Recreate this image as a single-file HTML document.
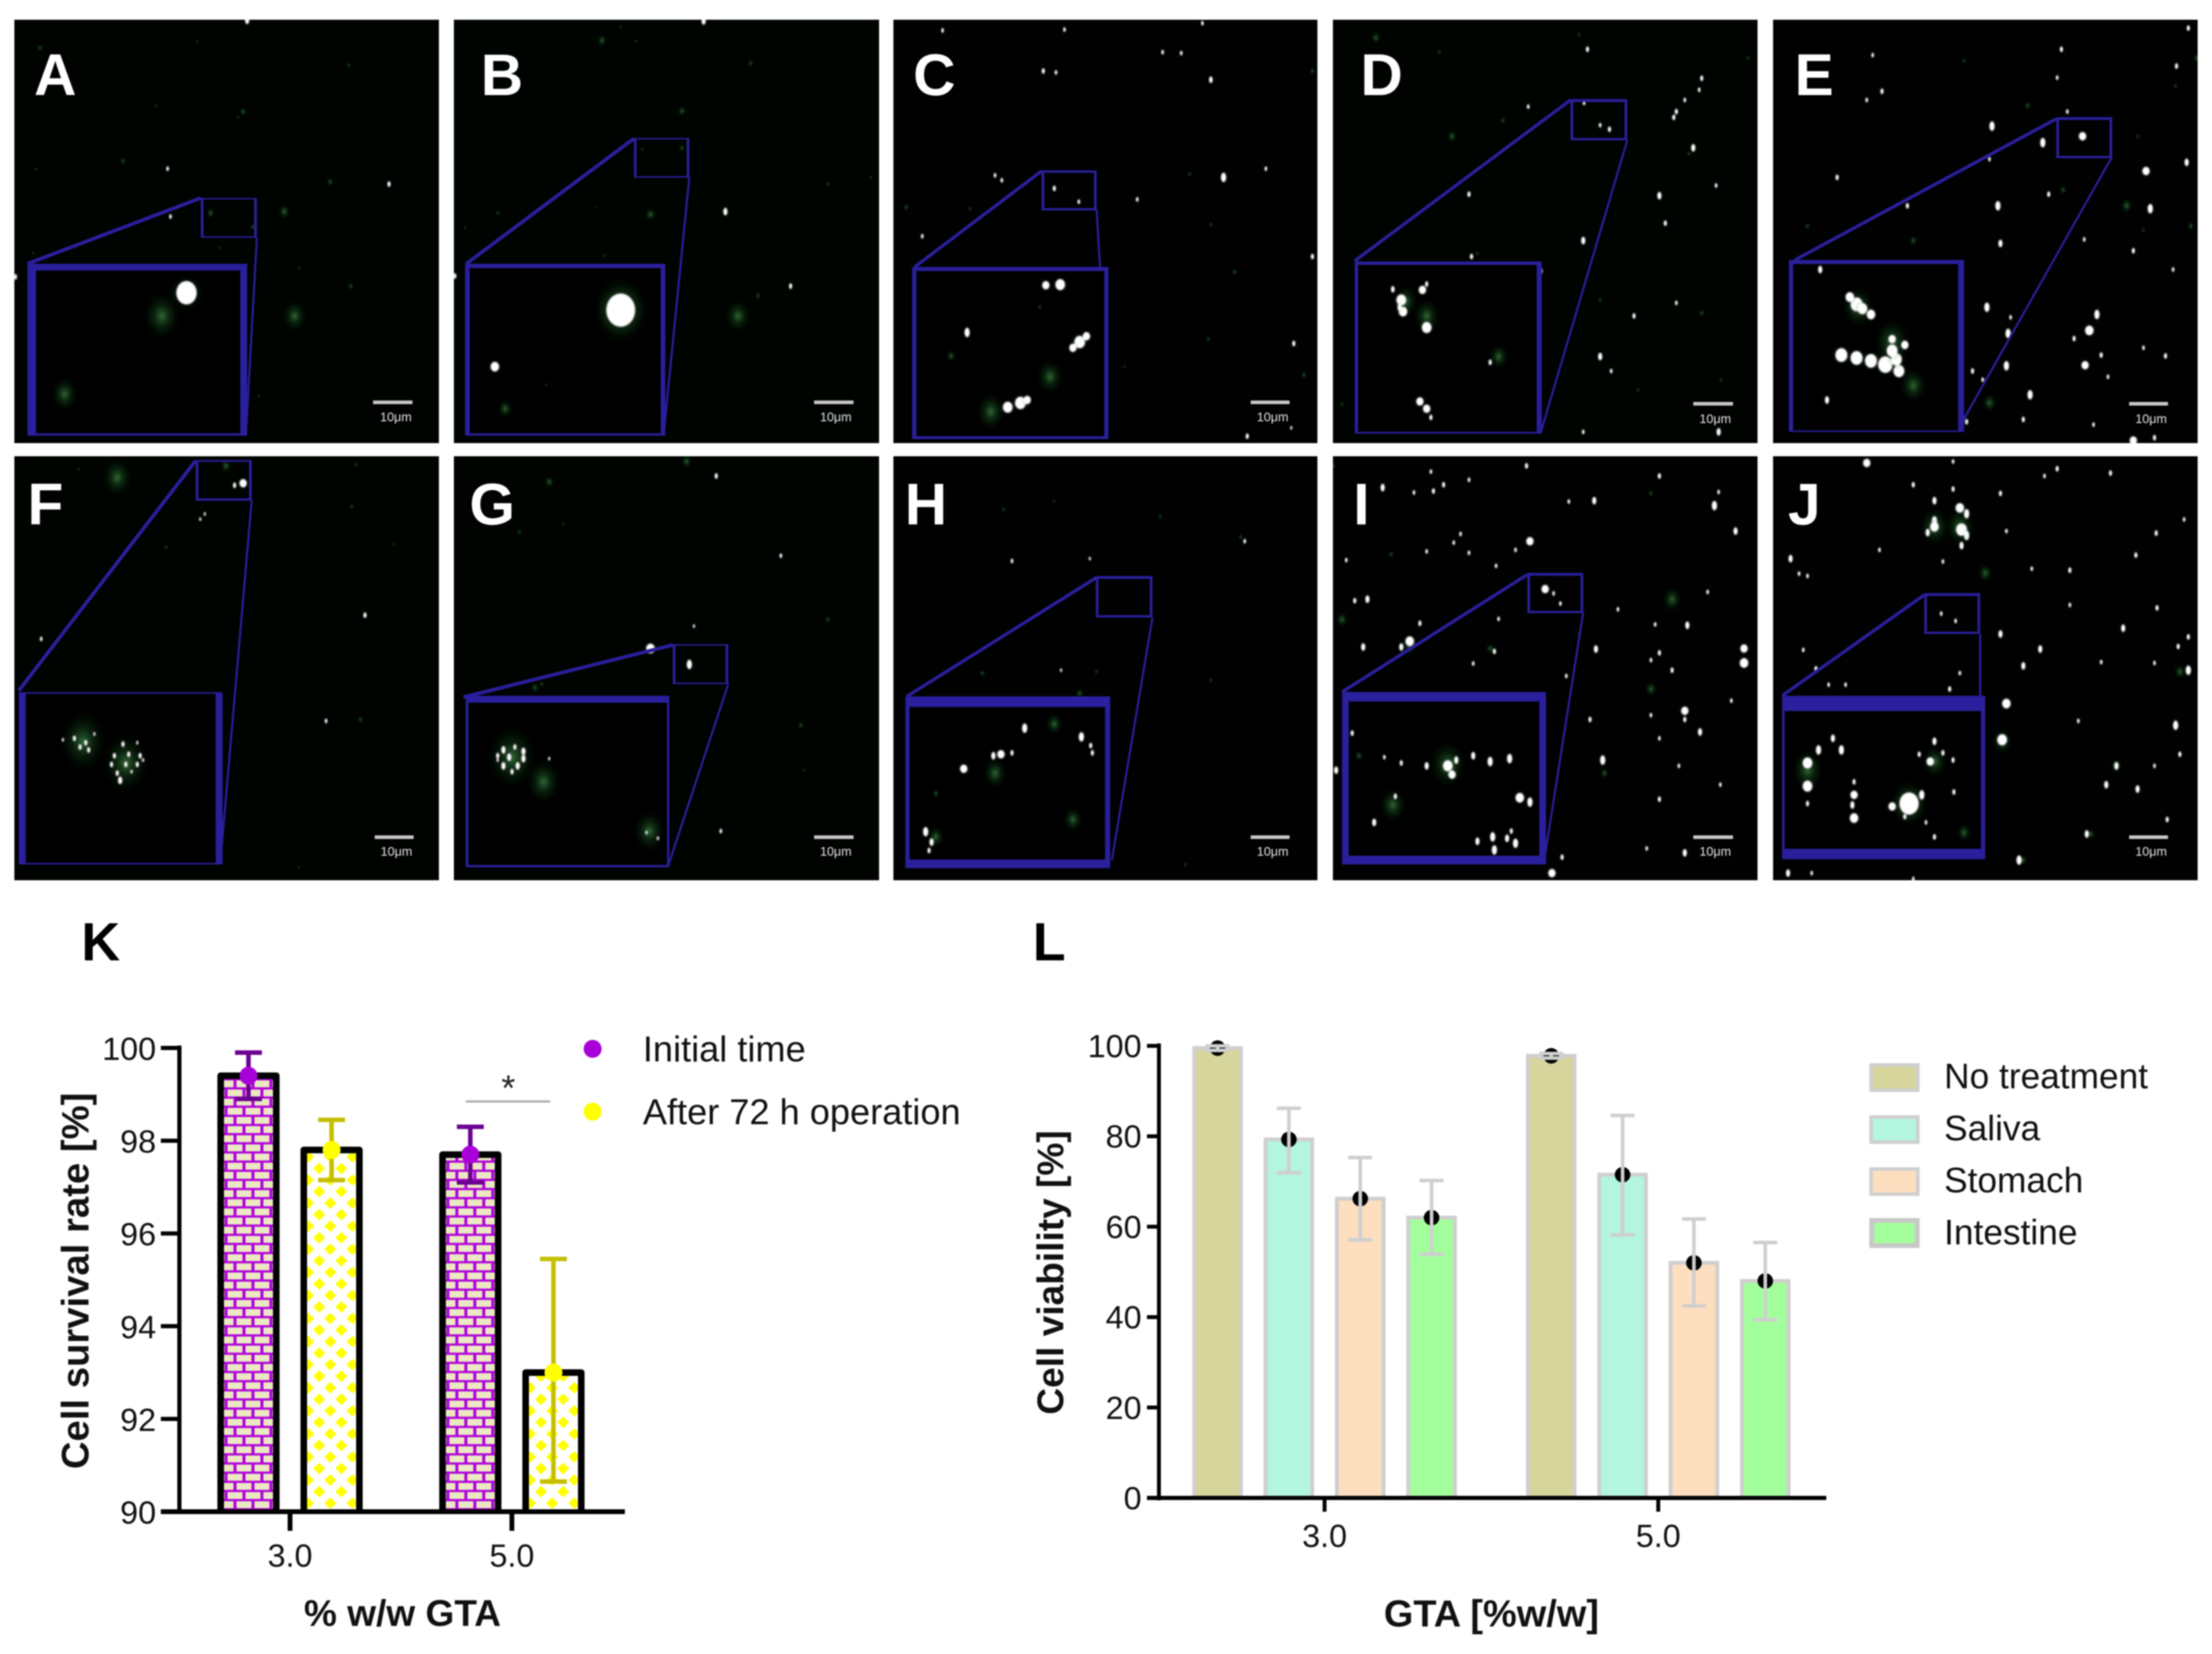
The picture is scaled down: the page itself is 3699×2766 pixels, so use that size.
<!DOCTYPE html>
<html lang="en">
<head>
<meta charset="utf-8">
<title>Cell fluorescence micrographs and viability charts</title>
<style>
html,body{margin:0;padding:0;background:#fff;width:3699px;height:2766px;overflow:hidden}
svg{display:block;filter:blur(1px)}
text{font-family:"Liberation Sans",sans-serif}
.plabel{font-size:98px;font-weight:700;fill:#fff}
.ftitle{font-size:90px;font-weight:700;fill:#000}
.atitle{font-weight:700;fill:#111;font-size:62px}
.leg{font-size:60.5px;fill:#111}
</style>
</head>
<body>
<svg id="fig" xmlns="http://www.w3.org/2000/svg" width="3699" height="2766" viewBox="0 0 3699 2766">
<defs>
<radialGradient id="haze"><stop offset="0" stop-color="#5fd06a" stop-opacity=".5"/><stop offset=".45" stop-color="#2c8a36" stop-opacity=".22"/><stop offset="1" stop-color="#0c3a12" stop-opacity="0"/></radialGradient>
<filter id="soft" x="-5%" y="-5%" width="110%" height="110%"><feGaussianBlur stdDeviation="1.1"/></filter>
<pattern id="brick" patternUnits="userSpaceOnUse" x="-5" y="-17.5" width="30" height="30.6">
<rect width="30" height="30.6" fill="#b000dc"/>
<rect x="15" y="0" width="15" height="11.6" fill="#ebe8c2"/><rect x="0" y="0" width="10" height="11.6" fill="#ebe8c2"/>
<rect x="0" y="15.3" width="25" height="11.6" fill="#ebe8c2"/>
</pattern>
<pattern id="diamond" patternUnits="userSpaceOnUse" x="-39.2" y="-4.65" width="37" height="38.6">
<rect width="37" height="38.6" fill="#fff"/>
<polygon points="18.5,0 28.5,9.65 18.5,19.3 8.5,9.65" fill="#ffff00"/>
<polygon points="0,19.3 10,28.95 0,38.6 -10,28.95" fill="#ffff00"/>
<polygon points="37,19.3 47,28.95 37,38.6 27,28.95" fill="#ffff00"/>
</pattern>
</defs>
<rect width="3699" height="2766" fill="#fff"/>
<g id="panels"></g>

<g>
<text class="plabel" x="57" y="159">A</text>
<text class="plabel" x="804" y="159">B</text>
<text class="plabel" x="1527" y="159">C</text>
<text class="plabel" x="2275" y="159">D</text>
<text class="plabel" x="3001" y="159">E</text>
<text class="plabel" x="46" y="877">F</text>
<text class="plabel" x="785" y="877">G</text>
<text class="plabel" x="1513" y="877">H</text>
<text class="plabel" x="2263" y="877">I</text>
<text class="plabel" x="2990" y="877">J</text>
</g>

<text class="ftitle" x="136" y="1606">K</text>
<text class="ftitle" x="1727" y="1606">L</text>

<g id="chartK"></g>
<text class="atitle" text-anchor="middle" font-size="64" style="font-size:64px" transform="translate(148,2142) rotate(-90)">Cell survival rate [%]</text>
<text class="atitle" text-anchor="middle" x="673" y="2719">% w/w GTA</text>
<text x="850" y="1840" text-anchor="middle" font-size="60" fill="#222">*</text>
<line x1="779" x2="920" y1="1842" y2="1842" stroke="#aaa" stroke-width="3.5"/>
<g>
<circle cx="991" cy="1754" r="15" fill="#a800d8"/>
<text class="leg" x="1075" y="1775">Initial time</text>
<circle cx="991" cy="1859" r="15" fill="#ffff00"/>
<text class="leg" x="1075" y="1880">After 72 h operation</text>
</g>

<g id="chartL"></g>
<text class="atitle" text-anchor="middle" transform="translate(1778,2128) rotate(-90)">Cell viability [%]</text>
<text class="atitle" style="font-size:63.5px" text-anchor="middle" x="2494" y="2720">GTA [%w/w]</text>
<g>
<rect x="3129" y="1781" width="78" height="42" fill="#d6d59b" stroke="#cfcfcf" stroke-width="6"/>
<text class="leg" style="font-size:59px" x="3251" y="1820">No treatment</text>
<rect x="3129" y="1868" width="78" height="42" fill="#b4f5df" stroke="#cfcfcf" stroke-width="6"/>
<text class="leg" style="font-size:59px" x="3251" y="1907">Saliva</text>
<rect x="3129" y="1955" width="78" height="42" fill="#fddfc0" stroke="#cfcfcf" stroke-width="6"/>
<text class="leg" style="font-size:59px" x="3251" y="1994">Stomach</text>
<rect x="3130" y="2041" width="76" height="42" fill="#a3ff9c" stroke="#c8c8c8" stroke-width="8"/>
<text class="leg" style="font-size:59px" x="3251" y="2081">Intestine</text>
</g>
</svg>

<script>
/* ---------- Chart K data ---------- */
const kCategories = ['3.0', '5.0'];
const kInitial = [99.4, 97.7];
const kInitialHigh = [99.9, 98.3];
const kInitialLow = [98.9, 97.1];
const kAfter = [97.8, 93.0];
const kAfterHigh = [98.45, 95.45];
const kAfterLow = [97.15, 90.65];
const kTicks = [90, 92, 94, 96, 98, 100];

/* ---------- Chart L data ---------- */
const lCategories = ['3.0', '5.0'];
const lNoTreatment = [99.5, 97.8];
const lNoTreatmentHigh = [100.0, 98.3];
const lNoTreatmentLow = [99.0, 97.3];
const lSaliva = [79.3, 71.5];
const lSalivaHigh = [86.2, 84.6];
const lSalivaLow = [71.9, 58.2];
const lStomach = [66.2, 52.0];
const lStomachHigh = [75.3, 61.7];
const lStomachLow = [57.1, 42.5];
const lIntestine = [62.0, 48.0];
const lIntestineHigh = [70.2, 56.5];
const lIntestineLow = [53.9, 39.4];
const lTicks = [0, 20, 40, 60, 80, 100];

const NS = 'http://www.w3.org/2000/svg';
function mk(tag, attrs, parent) {
  const n = document.createElementNS(NS, tag);
  for (const k in attrs) n.setAttribute(k, attrs[k]);
  parent.appendChild(n);
  return n;
}

/* ---------- Chart K ---------- */
(function () {
  const g = document.getElementById('chartK');
  const y0 = 2528, pxPerUnit = 77.55;
  const yK = v => y0 - (v - kTicks[0]) * pxPerUnit;
  const xK = i => 485 + i * 371;
  const seriesOffset = [-69.5, 69.5];
  const bw = 93, sw = 11;
  const series = [
    { name: 'initial', vals: kInitial, hi: kInitialHigh, lo: kInitialLow, pat: 'url(#brick)', mk: '#a800d8', err: '#6b0090' },
    { name: 'after', vals: kAfter, hi: kAfterHigh, lo: kAfterLow, pat: 'url(#diamond)', mk: '#ffff00', err: '#c4c000' }
  ];
  series.forEach(s => {
    kCategories.forEach((c, i) => {
      const cx = xK(i) + seriesOffset[series.indexOf(s)];
      const top = yK(s.vals[i]);
      const wrap = mk('g', { transform: 'translate(' + cx + ',' + y0 + ')' }, g);
      
      
      const fill = mk('rect', { x: -bw / 2, y: top - y0, width: bw, height: y0 - top, fill: s.pat }, wrap);
      
      
      const edge = mk('path', {
        d: 'M' + (-bw / 2) + ' 0V' + (top - y0) + 'H' + (bw / 2) + 'V0',
        fill: 'none', stroke: '#000', 'stroke-width': sw, 'stroke-linejoin': 'round'
      }, wrap);
      
      
    });
  });
  const yAxis = mk('line', { x1: 300, x2: 300, y1: yK(100) - 4, y2: y0 + 4, stroke: '#000', 'stroke-width': 7 }, g);
  
  
  const xAxis = mk('line', { x1: 269, x2: 1045, y1: y0, y2: y0, stroke: '#000', 'stroke-width': 8 }, g);
  
  
  kTicks.forEach(t => {
    const l = mk('line', { x1: 269, x2: 300, y1: yK(t), y2: yK(t), stroke: '#000', 'stroke-width': 7 }, g);
    
    
    const tx = mk('text', { x: 261, y: yK(t) + 20, 'text-anchor': 'end', 'font-size': 54, fill: '#111' }, g);
    tx.textContent = String(t);
    
    
  });
  kCategories.forEach((c, i) => {
    const l = mk('line', { x1: xK(i), x2: xK(i), y1: y0, y2: 2560, stroke: '#000', 'stroke-width': 8 }, g);
    
    
    const tx = mk('text', { x: xK(i), y: 2620, 'text-anchor': 'middle', 'font-size': 54, fill: '#111' }, g);
    tx.textContent = c;
    
    
  });
  series.forEach((s, si) => {
    kCategories.forEach((c, i) => {
      const cx = xK(i) + seriesOffset[si];
      const eb = mk('path', {
        d: 'M' + (cx - 22.5) + ' ' + yK(s.hi[i]) + 'H' + (cx + 22.5) + 'M' + cx + ' ' + yK(s.hi[i]) + 'V' + yK(s.lo[i]) + 'M' + (cx - 22.5) + ' ' + yK(s.lo[i]) + 'H' + (cx + 22.5),
        fill: 'none', stroke: s.err, 'stroke-width': 7.5
      }, g);
      
      
      const dot = mk('circle', { cx: cx, cy: yK(s.vals[i]), r: 15, fill: s.mk }, g);
      
      
    });
  });
})();

/* ---------- Chart L ---------- */
(function () {
  const g = document.getElementById('chartL');
  const y0 = 2505;
  const yL = v => y0 - v * 7.56;
  const xL = i => 2215 + i * 558;
  const bw = 78, sw = 6.5, gray = '#cfcfcf';
  const series = [
    { name: 'no-treatment', vals: lNoTreatment, hi: lNoTreatmentHigh, lo: lNoTreatmentLow, col: '#d6d59b' },
    { name: 'saliva', vals: lSaliva, hi: lSalivaHigh, lo: lSalivaLow, col: '#b4f5df' },
    { name: 'stomach', vals: lStomach, hi: lStomachHigh, lo: lStomachLow, col: '#fddfc0' },
    { name: 'intestine', vals: lIntestine, hi: lIntestineHigh, lo: lIntestineLow, col: '#a3ff9c' }
  ];
  const off = si => (si - 1.5) * 119.3;
  series.forEach((s, si) => {
    lCategories.forEach((c, i) => {
      const cx = xL(i) + off(si), top = yL(s.vals[i]);
      const b = mk('path', {
        d: 'M' + (cx - bw / 2) + ' ' + y0 + 'V' + top + 'H' + (cx + bw / 2) + 'V' + y0 + 'Z',
        fill: s.col, stroke: gray, 'stroke-width': sw
      }, g);
      
      
    });
  });
  const yAxis = mk('line', { x1: 1938, x2: 1938, y1: yL(100) - 4, y2: y0 + 4, stroke: '#000', 'stroke-width': 6.5 }, g);
  
  
  const xAxis = mk('line', { x1: 1918, x2: 3054, y1: y0, y2: y0, stroke: '#000', 'stroke-width': 7 }, g);
  
  
  lTicks.forEach(t => {
    const l = mk('line', { x1: 1918, x2: 1938, y1: yL(t), y2: yL(t), stroke: '#000', 'stroke-width': 6.5 }, g);
    
    
    const tx = mk('text', { x: 1909, y: yL(t) + 19, 'text-anchor': 'end', 'font-size': 54, fill: '#111' }, g);
    tx.textContent = String(t);
    
    
  });
  lCategories.forEach((c, i) => {
    const l = mk('line', { x1: xL(i), x2: xL(i), y1: y0, y2: 2528, stroke: '#000', 'stroke-width': 6.5 }, g);
    
    
    const tx = mk('text', { x: xL(i), y: 2587, 'text-anchor': 'middle', 'font-size': 54, fill: '#111' }, g);
    tx.textContent = c;
    
    
  });
  series.forEach((s, si) => {
    lCategories.forEach((c, i) => {
      const cx = xL(i) + off(si);
      const dot = mk('circle', { cx: cx, cy: yL(s.vals[i]), r: 13, fill: '#000' }, g);
      
      
      const eb = mk('path', {
        d: 'M' + (cx - 20) + ' ' + yL(s.hi[i]) + 'H' + (cx + 20) + 'M' + cx + ' ' + yL(s.hi[i]) + 'V' + yL(s.lo[i]) + 'M' + (cx - 20) + ' ' + yL(s.lo[i]) + 'H' + (cx + 20),
        fill: 'none', stroke: gray, 'stroke-width': 6
      }, g);
      
      
    });
  });
})();

/* ---------- Micrograph panels ---------- */
const cropTop = { sx: 1.0453, sy: 2.063, ox: 0, oy: 0 };
const cropTopR = { sx: 0.7066, sy: 2.063, ox: 1480, oy: 0 };
const cropBot = { sx: 1.0453, sy: 2.063, ox: 0, oy: 750 };
const cropBotR = { sx: 0.7066, sy: 2.063, ox: 1480, oy: 750 };

const micrographs = [
 { id: 'a', crop: cropTop, box: [24, 33, 734, 741], tint: '#000300',
   small: [351, 683, 449, 820, 5, 5], big: [48, 910, 432, 1503, 23, 12, 8, 15],
   lines: [[351, 683, 48, 910, 5], [449, 820, 430, 1495, 2.5]],
   bar: [652, 721, 1388, 692, 1437],
   white: [[680,635,3],[293,582,2.5],[298,747,2.5],[27,955,3],[432,70,4],[326,1010,17]],
   green: [[215,556,5],[63,583,3],[577,627,6],[70,165,5],[610,225,4],[425,385,6],[416,404,3],[368,735,7],[442,783,5],[497,730,10],[613,987,5],[523,925,3],[515,1090,20],[283,1090,30],[113,1360,22],[58,872,3],[452,1365,3],[383,855,3],[272,365,3],[345,143,3]] },
 { id: 'b', crop: cropTop, box: [759, 33, 1470, 741], tint: '#000400',
   small: [1108, 476, 1205, 613, 5, 5], big: [813, 910, 1163, 1503, 15, 8, 8, 8],
   lines: [[1108, 478, 815, 910, 5], [1205, 610, 1160, 1500, 2.5]],
   bar: [1423, 1492, 1388, 1461, 1437],
   white: [[1268,730,4],[1382,987,3],[795,952,3],[1230,72,4],[1085,1070,24],[865,1265,7]],
   green: [[1085,93,3],[1112,142,3],[1312,218,5],[1192,383,7],[1123,515,3],[1192,510,5],[870,735,4],[813,785,3],[1447,635,4],[1522,612,3],[1137,740,9],[1290,1090,20],[1085,1070,44],[883,1410,12],[1052,140,8],[1040,715,2],[1057,882,3],[955,1328,3],[1325,1020,5]] },
 { id: 'c', crop: cropTopR, box: [1494, 33, 2203, 741], tint: '#000100',
   small: [185, 588, 250, 726, 8, 8], big: [32, 921, 264, 1515, 14, 5, 10, 5],
   lines: [[185, 590, 35, 921, 4.5], [250, 722, 254, 921, 2.5]],
   bar: [432, 478, 1388, 458, 1437],
   white: [[68,105,2.5],[328,180,2.5],[187,245,3],[202,250,2.5],[385,275,3.5],[130,605,2.5],[138,622,2.5],[400,612,5],[200,650,3],[229,696,2.5],[298,688,2.5],[450,582,2.5],[505,885,3],[428,1505,3],[483,1185,3],[480,1476,2],[44,815,2.5],[190,984,6],[207,982,8],[97,1147,5],[230,1180,9],[222,1200,6],[238,1160,6],[145,1405,8],[160,1390,9],[168,1380,6],[212,102,2.5],[350,183,2.5],[375,80,2.5]],
   green: [[25,715,5],[360,600,4],[413,938,5],[382,1170,4],[495,1293,5],[505,245,5],[195,1300,22],[78,1228,8],[125,1420,24],[183,1060,4],[385,775,4],[283,1265,3],[100,720,4]] },
 { id: 'd', crop: cropTopR, box: [2229, 33, 2939, 741], tint: '#000300',
   small: [810, 342, 877, 484, 10, 8], big: [555, 902, 776, 1496, 12, 6, 6, 4],
   lines: [[810, 345, 555, 900, 4.5], [877, 484, 775, 1490, 2.5]],
   bar: [955, 1002, 1393, 981, 1443],
   white: [[830,170,3],[965,270,3],[962,310,2.5],[935,385,3],[932,405,3],[955,510,4],[945,345,2.5],[915,675,4],[690,670,3],[922,770,3],[825,830,4],[935,1045,2.5],[885,1090,3],[845,1230,4],[858,1280,2.5],[760,368,2.5],[693,885,3],[982,640,2.5],[985,1490,4],[825,1490,2.5],[826,355,2.5],[845,432,2.5],[856,446,3],[610,1035,8],[635,1000,6],[640,980,3],[600,998,3.5],[612,1075,7],[640,1130,8],[632,1385,6],[640,1410,6],[645,1440,3],[715,1250,3],[775,935,3],[608,1060,4]],
   green: [[655,180,4],[1020,200,4],[730,415,5],[640,1090,22],[725,1230,16],[950,530,4],[670,470,8],[820,120,4],[580,130,8],[988,1310,4],[845,1035,4],[965,1080,5],[890,1345,4],[540,1395,4],[700,875,4],[615,1040,20]] },
 { id: 'e', crop: cropTopR, box: [2965, 33, 3675, 741], tint: '#000100',
   small: [1384, 404, 1450, 546, 10, 8], big: [1068, 897, 1275, 1490, 14, 7, 5, 5],
   lines: [[1384, 410, 1075, 897, 4.5], [1450, 540, 1272, 1460, 2.5]],
   bar: [1470, 1516, 1393, 1496, 1443],
   white: [[1540,97,3],[1167,190,2.5],[1390,170,3],[1526,228,3],[1385,268,2.5],[1178,315,3],[1160,345,2.5],[1397,385,2.5],[1308,435,5],[1368,492,5],[1415,470,6],[1305,549,2.5],[1490,590,6],[1125,612,3],[1208,710,3],[1315,710,5],[1375,670,3],[1495,720,5],[1318,840,4],[1417,826,2.5],[1475,865,3],[1302,1060,5],[1432,1085,5],[1330,1095,2.5],[1327,1150,5],[1423,1140,7],[1405,1168,3],[1487,1200,2.5],[1437,1225,3],[1418,1260,6],[1513,1228,3],[1325,1262,5],[1285,1280,3],[1297,1310,2.5],[1353,1362,5],[1345,1447,3],[1428,1465,2.5],[1278,1455,3],[1475,1520,6],[1500,1510,3],[1522,930,2.5],[1538,560,4],[1105,930,4],[1113,1380,4],[1148,1050,10],[1140,1025,7],[1155,1065,8],[1165,1085,7],[1130,1225,10],[1148,1235,10],[1165,1245,10],[1182,1258,12],[1198,1280,9],[1195,1240,9],[1190,1210,9],[1205,1190,6],[1190,1170,6],[1445,1300,2.5]],
   green: [[1467,710,10],[1350,365,6],[1525,297,4],[1543,780,6],[1215,830,7],[1090,780,5],[1305,1390,12],[1190,1180,30],[1215,1330,22],[1150,1060,26],[1550,200,6],[1275,210,4],[1480,470,4],[1392,655,6],[1487,795,4]] },
 { id: 'f', crop: cropBot, box: [24, 763, 734, 1472], tint: '#000300',
   small: [342, 40, 440, 180, 6, 8], big: [33, 841, 389, 1435, 5, 12, 5, 12],
   lines: [[342, 42, 33, 835, 5], [440, 178, 385, 1430, 2.5]],
   bar: [655, 723, 1341, 693, 1388],
   white: [[425,120,6],[410,127,3],[72,657,2.5],[570,940,2.5],[638,575,3],[358,226,2],[350,244,2],[130,1000,3],[150,1015,3],[140,1030,3],[165,985,2],[110,1005,2],[155,1040,3],[215,1020,3],[240,1015,2],[200,1060,3],[225,1055,3],[245,1060,3],[195,1090,3],[220,1090,3],[240,1090,3],[205,1120,3],[230,1115,2],[210,1145,4],[250,1075,2]],
   green: [[395,60,9],[205,100,24],[623,55,4],[615,200,4],[688,330,3],[290,340,4],[630,935,5],[522,1445,3],[145,1010,38],[220,1085,38],[137,70,3]] },
 { id: 'g', crop: cropBot, box: [759, 763, 1470, 1472], tint: '#000300',
   small: [1176, 675, 1273, 813, 5, 5], big: [814, 853, 1170, 1445, 24, 4, 8, 5],
   lines: [[1176, 678, 810, 858, 5], [1273, 813, 1168, 1440, 2.5]],
   bar: [1423, 1492, 1341, 1461, 1388],
   white: [[1137,690,7],[1205,745,5],[1252,95,3],[1365,370,2.5],[1260,1320,2.5],[1213,613,2],[880,1040,4],[900,1030,3],[915,1045,4],[870,1060,3],[890,1065,4],[915,1070,4],[880,1095,4],[905,1095,4],[895,1115,3],[870,1075,2],[960,1070,2],[1130,1325,2],[1150,1345,2]],
   green: [[895,1065,40],[960,115,8],[908,288,4],[935,825,7],[947,813,4],[1400,955,5],[1447,590,5],[1405,1110,3],[985,260,3],[950,1150,28],[1135,1320,26],[1200,45,9]] },
 { id: 'h', crop: cropBotR, box: [1494, 763, 2203, 1472], tint: '#000100',
   small: [249, 440, 316, 583, 10, 8], big: [24, 855, 266, 1448, 37, 6, 30, 5],
   lines: [[250, 445, 26, 855, 4.5], [316, 583, 268, 1420, 2.5]],
   bar: [432, 478, 1341, 458, 1388],
   white: [[150,388,2.5],[242,380,2],[208,765,2],[425,320,2.5],[165,965,5],[232,995,5],[243,1025,3],[245,1050,3],[128,1060,4],[137,1055,6],[150,1050,3],[93,1105,6],[48,1322,5],[55,1358,4],[52,1387,3]],
   green: [[140,210,4],[325,235,4],[130,1120,20],[222,1280,16],[60,1190,6],[385,800,4],[230,845,7],[355,1435,4],[200,180,3],[115,775,5],[250,770,4],[420,305,4],[60,1340,14],[200,950,14]] },
 { id: 'i', crop: cropBotR, box: [2229, 763, 2939, 1472], tint: '#000100',
   small: [759, 429, 825, 568, 10, 8], big: [540, 840, 781, 1435, 33, 8, 30, 8],
   lines: [[759, 435, 540, 840, 4.5], [825, 565, 780, 1400, 2.5]],
   bar: [955, 1002, 1341, 981, 1388],
   white: [[758,60,3],[645,80,2.5],[690,108,2.5],[915,95,3],[588,135,4],[660,125,3],[648,147,3],[625,152,2.5],[985,150,2.5],[838,180,4],[808,183,2.5],[980,197,5],[762,320,6],[1005,285,4],[680,295,2.5],[672,325,2.5],[640,355,2.5],[690,360,2.5],[745,350,2.5],[722,405,2.5],[545,385,2.5],[570,520,4],[555,525,3],[780,485,6],[790,500,2.5],[798,535,2.5],[565,685,4],[620,665,7],[610,685,4],[632,603,3],[840,692,4],[948,610,4],[910,607,2.5],[1015,690,6],[1015,740,7],[915,705,3],[905,730,2.5],[930,765,3],[695,742,2.5],[805,785,2.5],[725,588,2.5],[720,700,3],[972,495,2.5],[866,555,2.5],[905,920,2.5],[945,905,6],[945,935,3],[963,978,4],[833,935,3],[915,1000,2.5],[938,1095,2.5],[848,1075,5],[1000,870,2.5],[987,1160,2.5],[915,1210,3],[788,1465,6],[945,1395,4],[900,1380,2.5],[800,1410,3],[533,1110,4],[552,982,3],[610,1085,3],[590,1065,2.5],[640,1095,4],[665,1095,8],[670,1125,6],[695,1060,4],[715,1080,5],[738,1070,5],[675,1075,4],[750,1205,7],[762,1220,5],[603,1200,3],[578,1290,4],[700,1355,4],[718,1340,5],[740,1320,3],[720,1385,5],[745,1362,5],[735,1345,4]],
   green: [[930,520,16],[540,590,10],[598,365,5],[620,680,12],[715,690,7],[665,1090,30],[600,1230,22],[905,155,5],[905,830,10],[850,1120,7],[560,1060,7],[820,640,4],[530,60,4]] },
 { id: 'j', crop: cropBotR, box: [2965, 763, 3675, 1472], tint: '#000100',
   small: [1228, 499, 1294, 640, 10, 8], big: [1060, 853, 1300, 1417, 53, 5, 36, 3],
   lines: [[1228, 505, 1060, 853, 4.5], [1294, 640, 1294, 853, 2.5]],
   bar: [1470, 1516, 1341, 1496, 1388],
   white: [[1160,50,6],[1262,45,2.5],[1385,70,3],[1448,85,3],[1215,125,3],[1262,140,3],[1318,155,3],[1240,180,4],[1270,205,7],[1278,225,5],[1240,250,5],[1240,270,7],[1272,280,9],[1232,290,4],[1278,300,5],[1272,335,4],[1070,380,4],[1175,350,2.5],[1325,285,2.5],[1502,292,3],[1478,368,3],[1370,95,2.5],[1535,245,2.5],[1080,432,2.5],[1090,440,2.5],[1400,420,3],[1355,415,2.5],[1250,390,2.5],[1318,640,4],[1248,570,2.5],[1265,595,2.5],[1400,540,2.5],[1503,550,3],[1463,620,4],[1365,692,4],[1528,683,3],[1540,650,3],[1345,750,4],[1437,737,2.5],[1500,740,2.5],[1540,765,5],[1325,880,7],[1320,1005,8],[1525,955,5],[1410,940,2.5],[1455,1095,4],[1443,1160,4],[1480,1175,4],[1500,1095,2.5],[1530,1055,3],[1420,1330,4],[1515,1280,3],[1340,1420,5],[1067,1465,4],[1095,1465,2.5],[1215,1485,2.5],[1100,760,3],[1135,815,2.5],[1115,815,2.5],[1258,830,3],[1270,775,2.5],[1085,695,2.5],[1103,1040,5],[1120,1000,4],[1130,1040,5],[1090,1085,8],[1090,1165,8],[1145,1150,3],[1145,1195,6],[1143,1230,4],[1145,1275,7],[1240,1010,4],[1235,1080,6],[1262,1075,3],[1222,1055,3],[1250,1050,3],[1210,1225,16],[1190,1235,6],[1225,1195,5],[1240,1340,3],[1263,1185,3],[1205,1270,3],[1090,1225,3],[1230,1290,2.5]],
   green: [[1300,430,12],[1090,1110,26],[1240,1080,20],[1210,1225,30],[1275,1325,12],[1455,1095,10],[1530,770,10],[1425,1330,7],[1320,1010,16],[1240,270,24],[1270,270,24],[1345,1420,7]] }
];

(function () {
  const root = document.getElementById('panels');
  const BLUE = '#2a1f9c';
  micrographs.forEach(p => {
    const c = p.crop;
    const X = v => v / c.sx + c.ox;
    const Y = v => v / c.sy + c.oy;
    const g = mk('g', {}, root);
    
    
    const clipId = 'clip-' + p.id;
    const cp = mk('clipPath', { id: clipId }, g);
    mk('rect', { x: p.box[0], y: p.box[1], width: p.box[2] - p.box[0], height: p.box[3] - p.box[1] }, cp);
    g.setAttribute('clip-path', 'url(#' + clipId + ')');
    const bg = mk('rect', { x: p.box[0], y: p.box[1], width: p.box[2] - p.box[0], height: p.box[3] - p.box[1], fill: p.tint }, g);
    
    
    const b = p.big;
    const inner = mk('rect', { x: X(b[0]), y: Y(b[1]), width: X(b[2]) - X(b[0]), height: Y(b[3]) - Y(b[1]), fill: '#000' }, g);
    
    
    const spots = mk('g', { filter: 'url(#soft)' }, g);
    
    
    p.green.forEach(s => {
      const e = mk('ellipse', { cx: X(s[0]), cy: Y(s[1]), rx: s[2] * 1.05, ry: s[2] * 1.35, fill: 'url(#haze)' }, spots);
      
      
    });
    p.white.forEach(s => {
      const small = s[2] < 6;
      const rx = small ? s[2] * 0.85 : s[2];
      const ry = small ? s[2] * 1.55 : s[2] * 1.15;
      const h = mk('ellipse', { cx: X(s[0]), cy: Y(s[1]), rx: rx * 1.8, ry: ry * 1.6, fill: 'url(#haze)' }, spots);
      
      
      const e = mk('ellipse', { cx: X(s[0]), cy: Y(s[1]), rx: rx, ry: ry, fill: '#fff' }, spots);
      
      
    });
    p.lines.forEach(l => {
      const ln = mk('line', { x1: X(l[0]), y1: Y(l[1]), x2: X(l[2]), y2: Y(l[3]), stroke: BLUE, 'stroke-width': l[4] + 1 }, g);
      
      
    });
    /* source box */
    const s = p.small;
    const side = 4.5;
    const sp = mk('path', {
      fill: BLUE, 'fill-rule': 'evenodd',
      d: 'M' + X(s[0]) + ' ' + Y(s[1]) + 'H' + X(s[2]) + 'V' + Y(s[3]) + 'H' + X(s[0]) + 'Z' +
         'M' + (X(s[0]) + side) + ' ' + (Y(s[1]) + s[4] / c.sy) + 'V' + (Y(s[3]) - s[5] / c.sy) + 'H' + (X(s[2]) - side) + 'V' + (Y(s[1]) + s[4] / c.sy) + 'Z'
    }, g);
    
    
    /* inset frame: [x1,y1,x2,y2,top,right,bottom,left] in crop units */
    const fr = mk('path', {
      fill: BLUE, 'fill-rule': 'evenodd',
      d: 'M' + X(b[0]) + ' ' + Y(b[1]) + 'H' + X(b[2]) + 'V' + Y(b[3]) + 'H' + X(b[0]) + 'Z' +
         'M' + X(b[0] + b[7]) + ' ' + Y(b[1] + b[4]) + 'V' + Y(b[3] - b[6]) + 'H' + X(b[2] - b[5]) + 'V' + Y(b[1] + b[4]) + 'Z'
    }, g);
    
    
    /* scale bar */
    const sb = p.bar;
    const bar = mk('rect', { x: X(sb[0]), y: Y(sb[2]) - 3, width: X(sb[1]) - X(sb[0]), height: 6, fill: '#c8c8c8' }, g);
    
    
    const st = mk('text', { x: X(sb[3]), y: Y(sb[4]) + 8, 'text-anchor': 'middle', 'font-size': 21, fill: '#e4e4e4' }, g);
    st.textContent = '10μm';
    
    
  });
})();
</script>
</body>
</html>
